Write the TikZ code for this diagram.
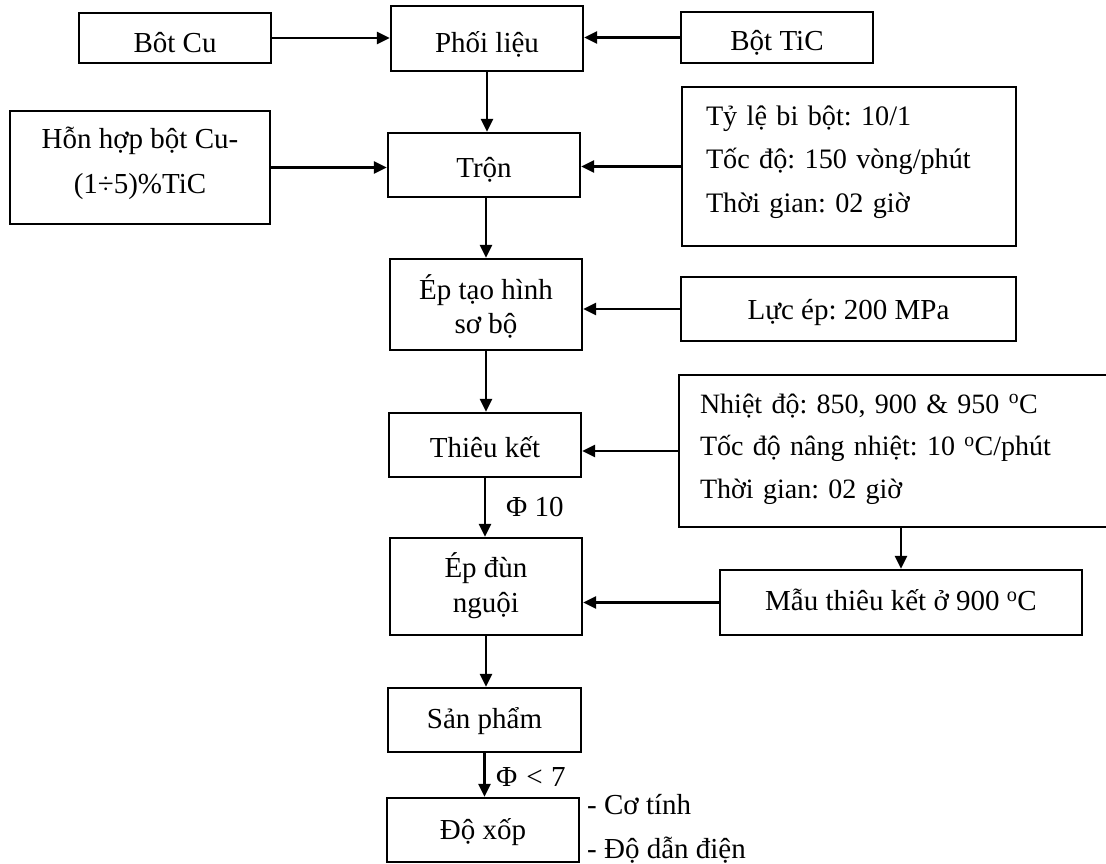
\documentclass[tikz,border=0pt]{standalone}
\usepackage{fontspec}
\setmainfont{Liberation Serif}
\usetikzlibrary{arrows.meta}
\tikzset{
  box/.style={draw, line width=2.2pt, rectangle, inner sep=0pt, align=center, font=\fontsize{29}{35}\selectfont\frenchspacing},
  tb/.style 2 args={text height=#1pt, text depth=#2pt},
  arr/.style={line width=2.6pt, -{Triangle[length=13pt,width=12pt]}},
  lbl/.style={inner sep=0pt, anchor=west, font=\fontsize{29}{35}\selectfont\frenchspacing}
}
\begin{document}
\begin{tikzpicture}[x=1pt,y=-1pt]
\useasboundingbox (0,0) rectangle (1106,863);
\clip (0,0) rectangle (1106,863);
\node[box, tb={28}{0}, minimum width=192pt, minimum height=50pt] (botcu) at (175,38) {Bôt Cu};
\node[box, tb={27}{0}, minimum width=192pt, minimum height=65pt] (phoi) at (487,38.5) {Phối liệu};
\node[box, tb={25}{0}, minimum width=192pt, minimum height=51pt] (botic) at (777,37.5) {Bột TiC};
\node[box, tb={51}{0}, minimum width=260pt, minimum height=113pt, font=\fontsize{29}{45}\selectfont] (honhop) at (140,167.5) {Hỗn hợp bột Cu-\\(1÷5)\%TiC};
\node[box, tb={24}{0}, minimum width=192pt, minimum height=64pt] (tron) at (484,165) {Trộn};
\node[box, tb={4}{87}, minimum width=334pt, minimum height=159pt, text width=286pt, inner xsep=24pt, align=left, font=\fontsize{28.2}{43.5}\selectfont\frenchspacing] (tyle) at (849,166.5) {Tỷ lệ bi bột: 10/1\\Tốc độ: 150 vòng/phút\\Thời gian: 02 giờ};
\node[box, tb={57}{0}, minimum width=192pt, minimum height=91pt, font=\fontsize{29}{34}\selectfont] (eptao) at (486,304.5) {Ép tạo hình\\sơ bộ};
\node[box, tb={20}{0}, minimum width=335pt, minimum height=64pt] (lucep) at (848.5,309) {Lực ép: 200 MPa};
\node[box, tb={24}{0}, minimum width=192pt, minimum height=64pt] (thieu) at (485,445) {Thiêu kết};
\node[box, tb={9}{85}, minimum width=431pt, minimum height=152pt, text width=389pt, inner xsep=21pt, align=left, font=\fontsize{28}{42.5}\selectfont\frenchspacing] (nhiet) at (894.5,451) {Nhiệt độ: 850, 900 \& 950 \textsuperscript{o}C\\Tốc độ nâng nhiệt: 10 \textsuperscript{o}C/phút\\Thời gian: 02 giờ};
\node[box, tb={51}{0}, minimum width=192pt, minimum height=97pt] (epdun) at (486,586.5) {Ép đùn\\nguội};
\node[box, tb={16}{0}, minimum width=362pt, minimum height=65pt] (mau) at (901,602.5) {Mẫu thiêu kết ở 900 \textsuperscript{o}C};
\node[box, tb={16}{0}, minimum width=193pt, minimum height=64pt] (sanpham) at (484.5,720) {Sản phẩm};
\node[box, tb={18}{0}, minimum width=192pt, minimum height=64pt] (doxop) at (483,830) {Độ xốp};

\draw[arr] (botcu.east) -- (botcu.east -| phoi.west);
\draw[arr] (botic.west) -- (botic.west -| phoi.east);
\draw[arr] (phoi.south) -- (phoi.south |- tron.north);
\draw[arr] (honhop.east) -- (honhop.east -| tron.west);
\draw[arr] (tyle.west) -- (tyle.west -| tron.east);
\draw[arr] (eptao.north |- tron.south) -- (eptao.north);
\draw[arr] (lucep.west) -- (lucep.west -| eptao.east);
\draw[arr] (eptao.south) -- (eptao.south |- thieu.north);
\draw[arr] (nhiet.west) -- (nhiet.west -| thieu.east);
\draw[arr] (thieu.south) -- (thieu.south |- epdun.north);
\draw[arr] (nhiet.south -| mau.north) -- (mau.north);
\draw[arr] (mau.west) -- (mau.west -| epdun.east);
\draw[arr] (epdun.south) -- (epdun.south |- sanpham.north);
\draw[arr] (sanpham.south) -- (sanpham.south |- doxop.north);

\node[lbl] (phi10) at (506,507) {Φ 10};
\node[lbl] (phi7) at (496,777) {Φ\hspace{9pt}<\hspace{8.5pt}7};
\node[lbl] (coti) at (587,805) {- Cơ tính};
\node[lbl] (dodan) at (587,850) {- Độ dẫn điện};
\end{tikzpicture}
\end{document}
